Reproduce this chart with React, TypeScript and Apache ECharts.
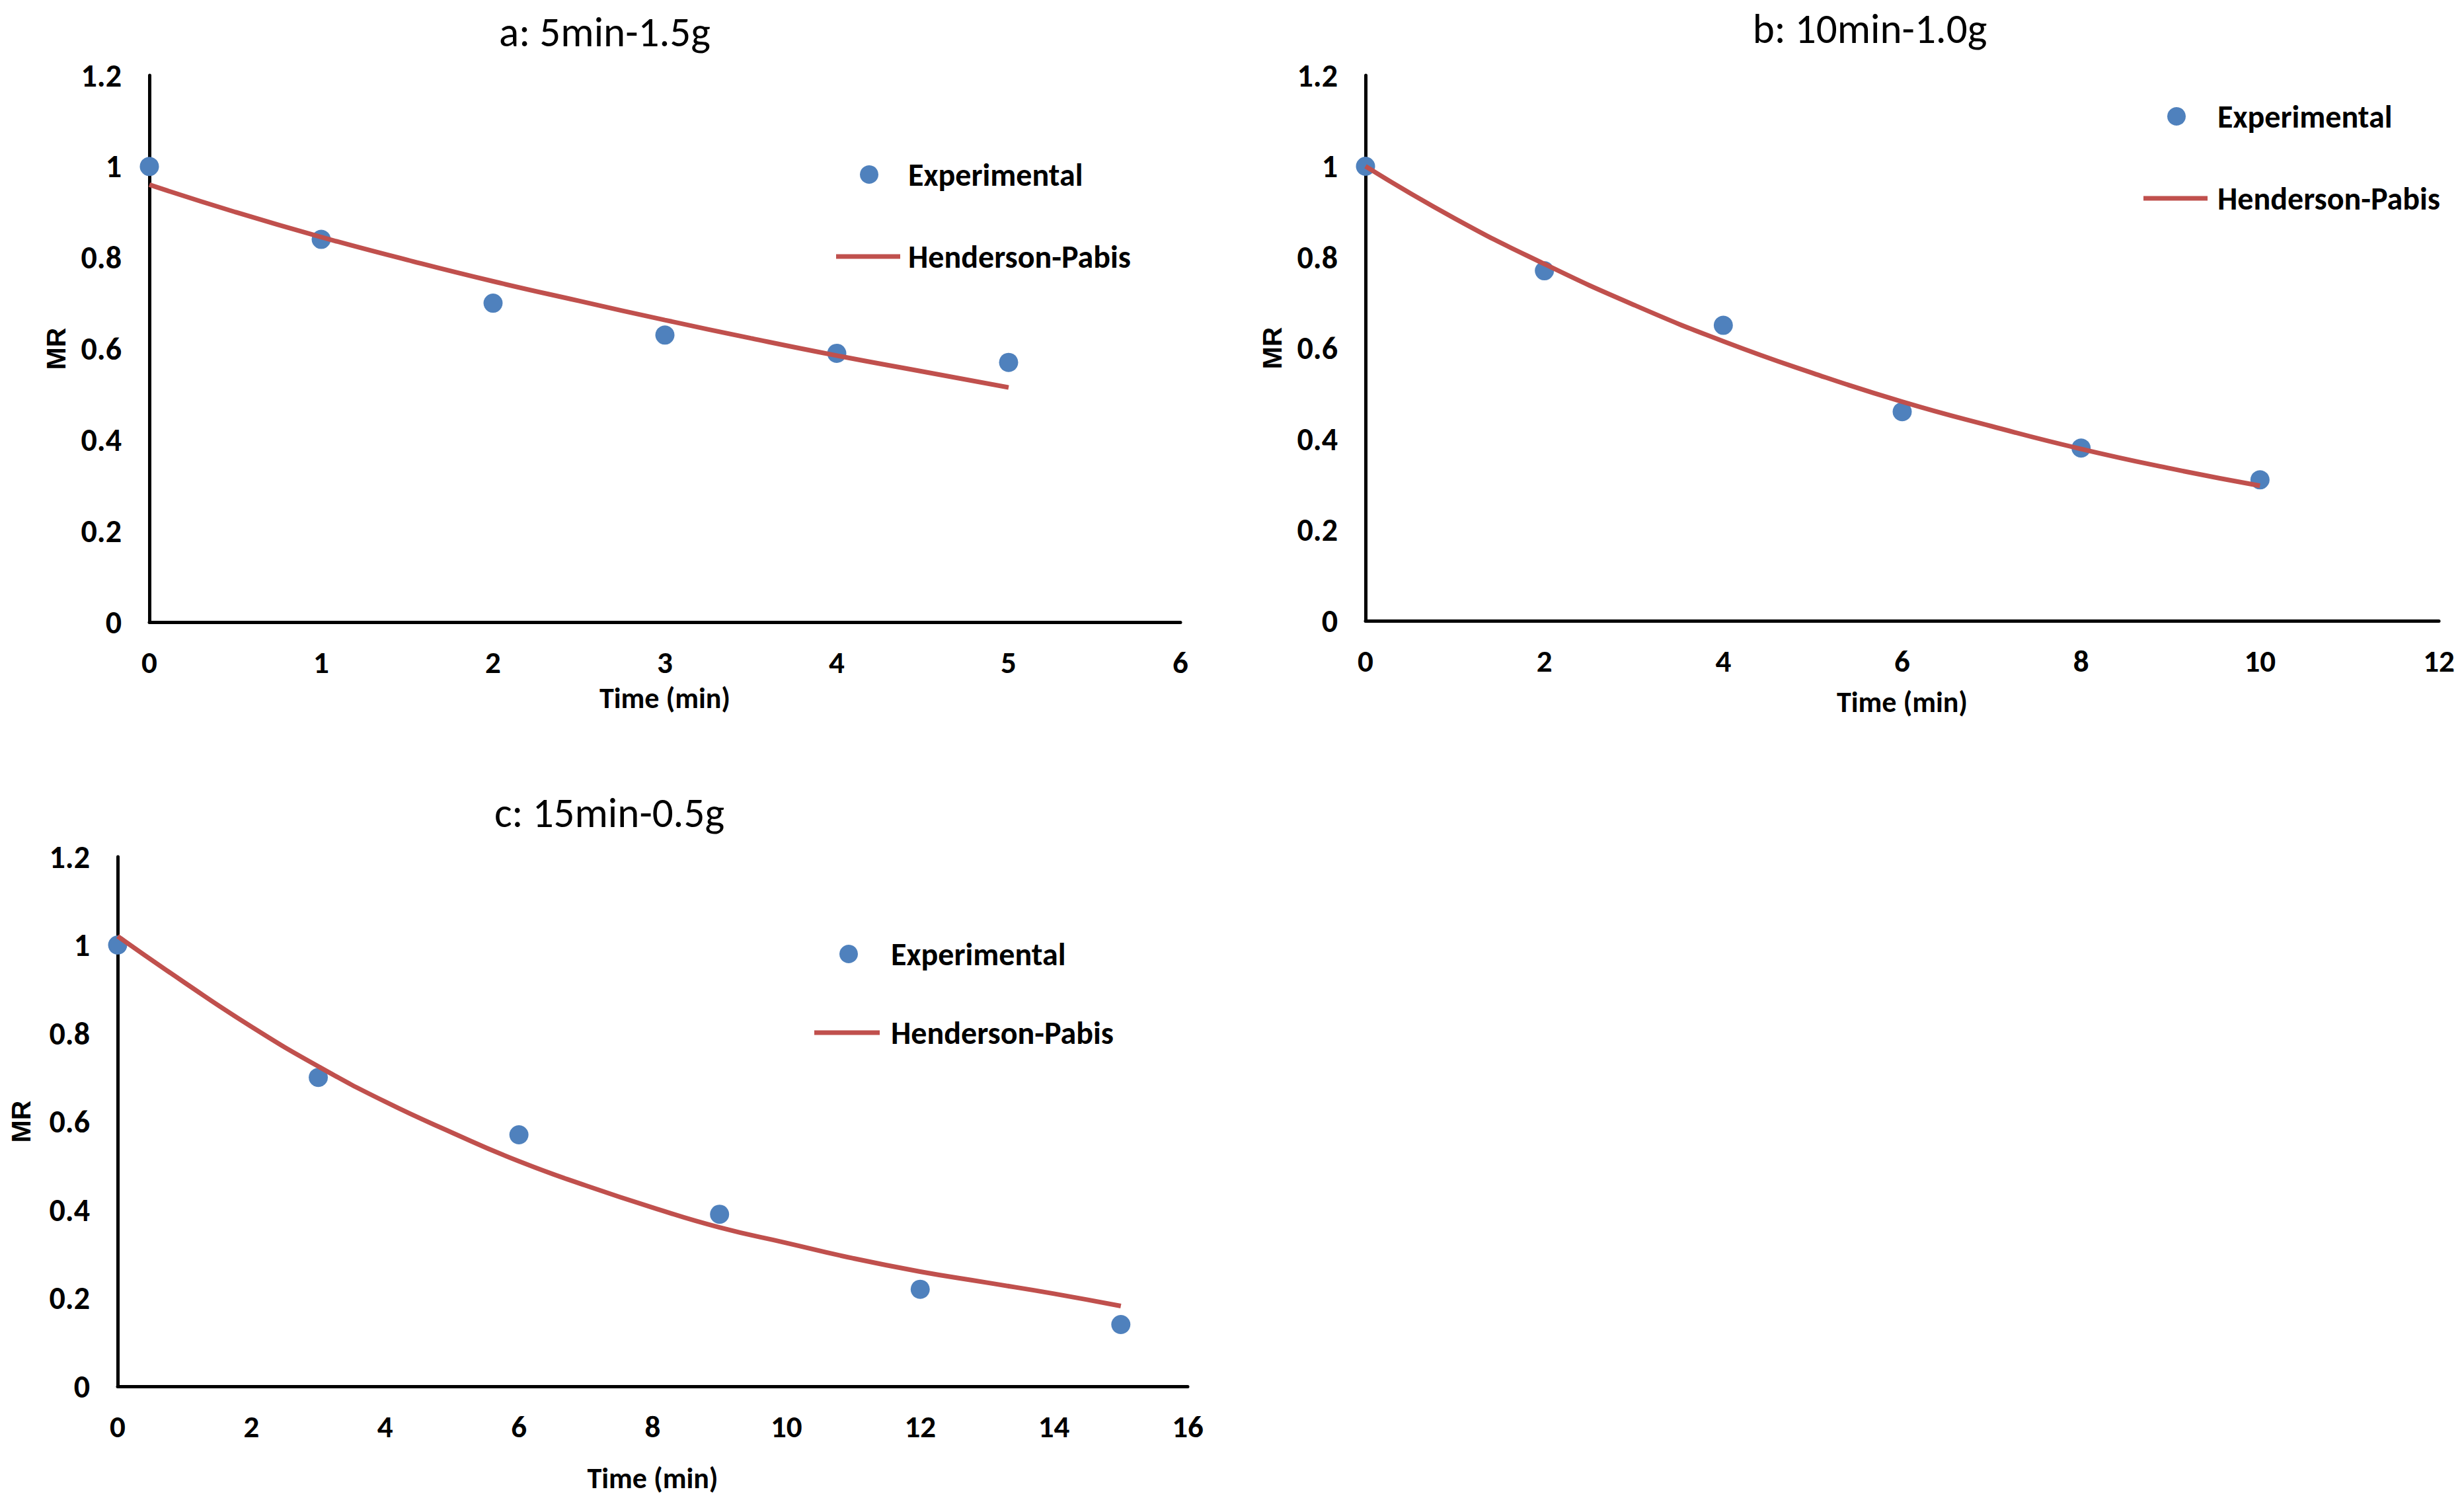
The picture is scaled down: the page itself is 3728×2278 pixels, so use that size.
import React, { useEffect, useRef } from "react";
import * as echarts from "echarts";

// ---- Data ----
const timeA = [0, 1, 2, 3, 4, 5];
const expA = [1.0, 0.84, 0.7, 0.63, 0.59, 0.57];
const fitTimeA = [0, 0.5, 1, 1.5, 2, 2.5, 3, 3.5, 4, 4.5, 5];
const fitA = [0.96, 0.9, 0.845, 0.795, 0.748, 0.705, 0.663, 0.623, 0.585, 0.55, 0.515];

const timeB = [0, 2, 4, 6, 8, 10];
const expB = [1.0, 0.77, 0.65, 0.46, 0.38, 0.31];
const fitTimeB = [0, 1, 2, 3, 4, 5, 6, 7, 8, 9, 10];
const fitB = [1.0, 0.885, 0.785, 0.695, 0.615, 0.545, 0.482, 0.428, 0.378, 0.335, 0.297];

const timeC = [0, 3, 6, 9, 12, 15];
const expC = [1.0, 0.7, 0.57, 0.39, 0.22, 0.14];
const fitTimeC = [0, 1, 2, 3, 4, 5, 6, 7, 8, 9, 10, 11, 12, 13, 14, 15];
const fitC = [1.02, 0.915, 0.815, 0.725, 0.645, 0.575, 0.51, 0.455, 0.405, 0.36, 0.325, 0.29, 0.26, 0.235, 0.21, 0.182];

const titles = ["a: 5min-1.5g", "b: 10min-1.0g", "c: 15min-0.5g"];
const xMax = [6, 12, 16];
const xStep = [1, 2, 2];
const seriesNames = ["Experimental", "Henderson-Pabis"];
const xAxisTitle = "Time (min)";
const yAxisTitle = "MR";

const FONT = "Carlito, 'Liberation Sans Narrow', 'Open Sans', sans-serif";
const BLUE = "#4F81BD";
const RED = "#C0504D";

const grids = [
  { left: 226, top: 114, width: 1560, height: 827 },
  { left: 2066, top: 114, width: 1624, height: 825 },
  { left: 178, top: 1296, width: 1619, height: 801 },
];
const xNameGap = [93, 101, 117];
const yNameGap = [121, 121, 126];
const titlePos = [
  [915, 48],
  [2829, 43],
  [922, 1229],
];
const legendPos = [
  { marker: [1315, 264], line: [1265, 1362, 388], textX: 1374 },
  { marker: [3293, 176], line: [3243, 3340, 300], textX: 3355 },
  { marker: [1284, 1443], line: [1232, 1331, 1562], textX: 1348 },
];

function pairs(xs: number[], ys: number[]) {
  return xs.map((x, i) => [x, ys[i]]);
}

export default function App() {
  const ref = useRef<HTMLDivElement>(null);
  useEffect(() => {
    if (!ref.current) return;
    const chart = echarts.init(ref.current, null, { renderer: "svg" });
    const expData = [pairs(timeA, expA), pairs(timeB, expB), pairs(timeC, expC)];
    const fitData = [pairs(fitTimeA, fitA), pairs(fitTimeB, fitB), pairs(fitTimeC, fitC)];

    const xAxes = grids.map((_, i) => ({
      type: "value",
      gridIndex: i,
      min: 0,
      max: xMax[i],
      interval: xStep[i],
      name: xAxisTitle,
      nameLocation: "middle",
      nameGap: xNameGap[i],
      nameTextStyle: { fontFamily: FONT, fontWeight: "bold", fontSize: 44, color: "#000" },
      axisLine: { show: true, lineStyle: { color: "#000", width: 5 } },
      axisTick: { show: false },
      splitLine: { show: false },
      axisLabel: { margin: 37, fontFamily: FONT, fontWeight: "bold", fontSize: 47, color: "#000" },
    }));
    const yAxes = grids.map((_, i) => ({
      type: "value",
      gridIndex: i,
      min: 0,
      max: 1.2,
      interval: 0.2,
      name: yAxisTitle,
      nameLocation: "middle",
      nameGap: yNameGap[i],
      nameTextStyle: { fontFamily: "'Liberation Sans', Arial, sans-serif", fontWeight: "bold", fontSize: 41, color: "#000" },
      axisLine: { show: true, lineStyle: { color: "#000", width: 5 } },
      axisTick: { show: false },
      splitLine: { show: false },
      axisLabel: { margin: 42, fontFamily: FONT, fontWeight: "bold", fontSize: 48, color: "#000" },
    }));

    const series: any[] = [];
    grids.forEach((_, i) => {
      series.push({
        type: "scatter",
        name: seriesNames[0],
        xAxisIndex: i,
        yAxisIndex: i,
        data: expData[i],
        symbol: "circle",
        symbolSize: 29,
        itemStyle: { color: BLUE, opacity: 1 },
        z: 2,
      });
      series.push({
        type: "line",
        name: seriesNames[1],
        xAxisIndex: i,
        yAxisIndex: i,
        data: fitData[i],
        smooth: true,
        showSymbol: false,
        symbol: "none",
        lineStyle: { color: RED, width: 7 },
        z: 3,
      });
    });

    const graphics: any[] = [];
    titles.forEach((t, i) => {
      graphics.push({
        type: "text",
        x: titlePos[i][0],
        y: titlePos[i][1],
        style: {
          text: t,
          fontFamily: FONT,
          fontSize: 63,
          fill: "#000",
          align: "center",
          verticalAlign: "middle",
        },
      });
      const lp = legendPos[i];
      graphics.push({
        type: "circle",
        shape: { cx: lp.marker[0], cy: lp.marker[1], r: 14 },
        style: { fill: BLUE },
      });
      graphics.push({
        type: "text",
        x: lp.textX,
        y: lp.marker[1],
        style: {
          text: seriesNames[0],
          fontFamily: FONT,
          fontWeight: "bold",
          fontSize: 48,
          fill: "#000",
          align: "left",
          verticalAlign: "middle",
        },
      });
      graphics.push({
        type: "line",
        shape: { x1: lp.line[0], y1: lp.line[2], x2: lp.line[1], y2: lp.line[2] },
        style: { stroke: RED, lineWidth: 7 },
      });
      graphics.push({
        type: "text",
        x: lp.textX,
        y: lp.line[2],
        style: {
          text: seriesNames[1],
          fontFamily: FONT,
          fontWeight: "bold",
          fontSize: 48,
          fill: "#000",
          align: "left",
          verticalAlign: "middle",
        },
      });
    });

    chart.setOption({
      animation: false,
      backgroundColor: "#fff",
      grid: grids.map((g) => ({ ...g, containLabel: false })),
      xAxis: xAxes,
      yAxis: yAxes,
      series,
      graphic: graphics,
    });
    return () => chart.dispose();
  }, []);
  return (
    <div
      ref={ref}
      style={{ position: "fixed", left: 0, top: 0, width: "3728px", height: "2278px", background: "#fff" }}
    />
  );
}
